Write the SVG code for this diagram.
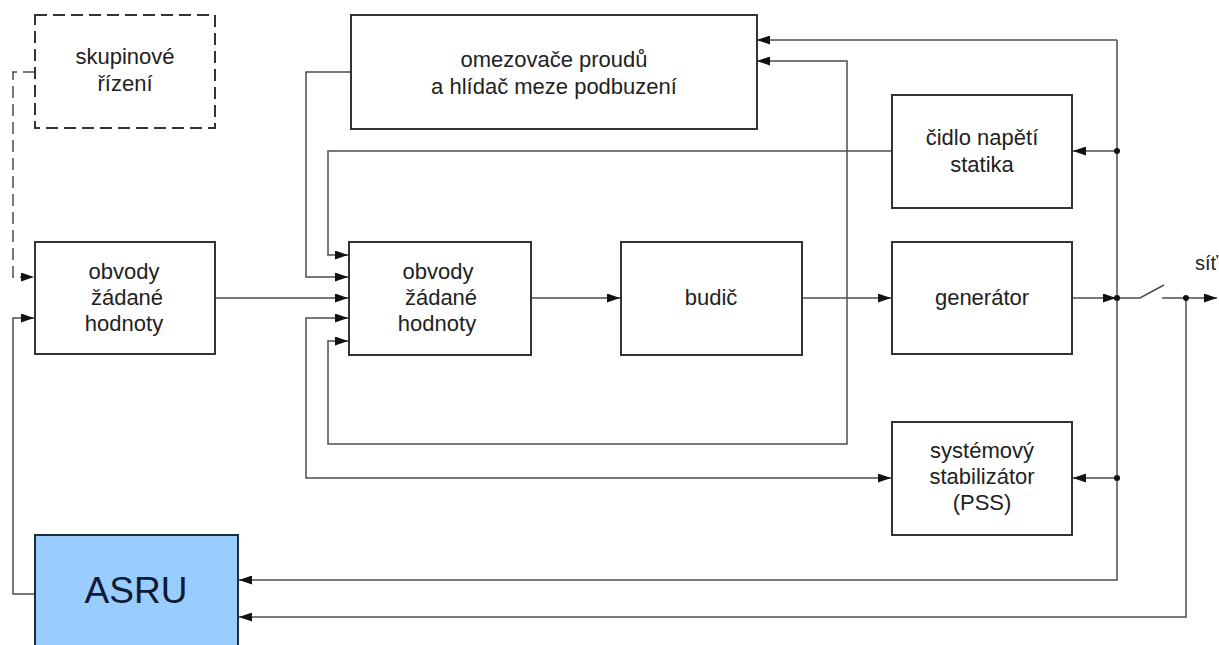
<svg xmlns="http://www.w3.org/2000/svg" width="1219" height="645" viewBox="0 0 1219 645">
  <style>
    .box { fill: #ffffff; stroke: #333333; stroke-width: 2; }
    .dashed { stroke-dasharray: 12 6; }
    .asru { fill: #99ccff; stroke: #1e2d3d; stroke-width: 2; }
    .lbl { font-family: "Liberation Sans", Arial, sans-serif; font-size: 22px; fill: #222222; text-anchor: middle; }
    .big { font-family: "Liberation Sans", Arial, sans-serif; font-size: 37px; fill: #0f1a33; text-anchor: middle; }
    .wire { fill: none; stroke: #4d4d4d; stroke-width: 1.5; }
    .arrow { marker-end: url(#head); }
    .both { marker-start: url(#head); marker-end: url(#head); }
    .dot { fill: #111111; }
  </style>
  <defs>
    <marker id="head" viewBox="0 0 13 9" refX="13" refY="4.5" markerWidth="13" markerHeight="9" markerUnits="userSpaceOnUse" orient="auto-start-reverse">
      <path d="M0,0 L13,4.5 L0,9 Z" fill="#111111"/>
    </marker>
  </defs>

  <!-- connectors -->
  <g id="connectors">
    <!-- group control into setpoint circuits (dashed) -->
    <path class="wire dashed arrow" d="M35,72 H13 V277 H34"/>
    <!-- ASRU into setpoint circuits -->
    <path class="wire arrow" d="M35,594 H13 V318 H34"/>
    <!-- setpoint circuits chain -->
    <path class="wire arrow" d="M215,298 H348"/>
    <path class="wire arrow" d="M350,72 H306 V277 H348"/>
    <path class="wire arrow" d="M891,151 H328 V255 H348"/>
    <path class="wire both" d="M348,318 H306 V478 H891"/>
    <path class="wire both" d="M348,341 H328 V444 H847 V61 H757"/>
    <path class="wire arrow" d="M531,298 H620"/>
    <path class="wire arrow" d="M802,298 H891"/>
    <!-- terminal measurement bus -->
    <path class="wire arrow" d="M1117,40 H757"/>
    <path class="wire arrow" d="M1117,40 V580 H239"/>
    <path class="wire arrow" d="M1117,151 H1073"/>
    <path class="wire arrow" d="M1117,478 H1073"/>
    <path class="wire arrow" d="M1072,298 H1116"/>
    <!-- breaker and grid -->
    <path class="wire" d="M1117,298 H1140 L1164,285"/>
    <path class="wire arrow" d="M1162,298 H1217"/>
    <path class="wire arrow" d="M1186,298 V617 H239"/>
    <circle class="dot" cx="1117" cy="151" r="3"/>
    <circle class="dot" cx="1117" cy="298" r="3"/>
    <circle class="dot" cx="1117" cy="478" r="3"/>
    <circle class="dot" cx="1186" cy="298" r="3"/>
    <text class="lbl" x="1195" y="270" style="text-anchor:start;font-size:20px">síť</text>
  </g>

  <g id="skupinove-rizeni">
    <rect class="box dashed" x="35" y="15" width="180" height="113"/>
    <text class="lbl" x="125" y="64">skupinové</text>
    <text class="lbl" x="125" y="91">řízení</text>
  </g>

  <g id="omezovace">
    <rect class="box" x="351" y="15" width="406" height="114"/>
    <text class="lbl" x="554" y="67">omezovače proudů</text>
    <text class="lbl" x="554" y="94">a hlídač meze podbuzení</text>
  </g>

  <g id="cidlo-napeti">
    <rect class="box" x="892" y="95" width="180" height="113"/>
    <text class="lbl" x="982" y="145">čidlo napětí</text>
    <text class="lbl" x="982" y="172">statika</text>
  </g>

  <g id="obvody-vnejsi">
    <rect class="box" x="35" y="242" width="180" height="112"/>
    <text class="lbl" x="124" y="279">obvody</text>
    <text class="lbl" x="127" y="305">žádané</text>
    <text class="lbl" x="124" y="331">hodnoty</text>
  </g>

  <g id="obvody-vnitrni">
    <rect class="box" x="349" y="242" width="182" height="113"/>
    <text class="lbl" x="438" y="279">obvody</text>
    <text class="lbl" x="441" y="305">žádané</text>
    <text class="lbl" x="437" y="331">hodnoty</text>
  </g>

  <g id="budic">
    <rect class="box" x="621" y="242" width="181" height="113"/>
    <text class="lbl" x="711" y="305">budič</text>
  </g>

  <g id="generator">
    <rect class="box" x="892" y="242" width="180" height="112"/>
    <text class="lbl" x="982" y="305">generátor</text>
  </g>

  <g id="pss">
    <rect class="box" x="892" y="422" width="180" height="113"/>
    <text class="lbl" x="982" y="458">systémový</text>
    <text class="lbl" x="982" y="484">stabilizátor</text>
    <text class="lbl" x="982" y="510">(PSS)</text>
  </g>

  <g id="asru">
    <rect class="asru" x="35" y="535" width="203" height="120"/>
    <text class="big" x="136" y="603">ASRU</text>
  </g>
</svg>
